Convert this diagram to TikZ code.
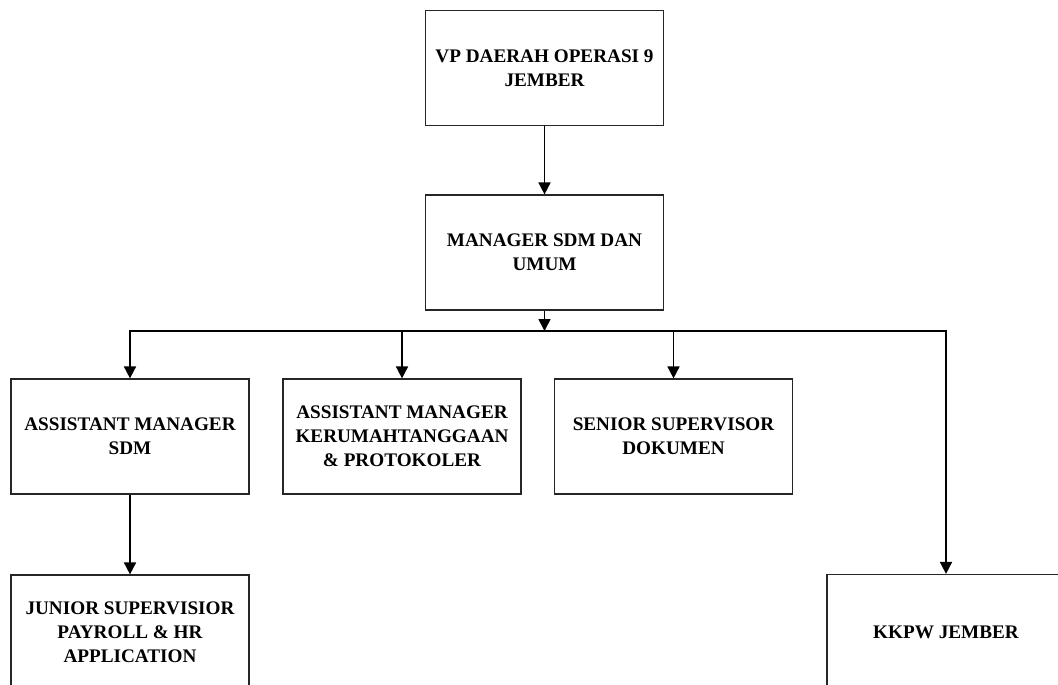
\documentclass[tikz,border=0pt]{standalone}
\usepackage{fontspec}
\setmainfont{Liberation Serif}
\usetikzlibrary{arrows.meta}
\begin{document}
\begin{tikzpicture}[x=0.5pt,y=-0.5pt,
  box/.style={draw=black!85,line width=0.6pt,minimum width=119pt,minimum height=57.5pt,
    align=center,font=\bfseries\fontsize{9.6}{12}\selectfont,inner sep=0pt},
  arr/.style={line width=0.85pt,-{Triangle[length=6pt,width=6pt]}},
  ln/.style={line width=0.85pt}]
\useasboundingbox (0,0) rectangle (1058,684);
\clip (0,0) rectangle (1058,684);
\node[box] (vp) at (544.5,68) {VP DAERAH OPERASI 9\\JEMBER};
\node[box] (m) at (544.5,252.5) {MANAGER SDM DAN\\UMUM};
\node[box] (a1) at (130,436.5) {ASSISTANT MANAGER\\SDM};
\node[box] (a2) at (402,436.5) {ASSISTANT MANAGER\\KERUMAHTANGGAAN\\\& PROTOKOLER};
\node[box] (a3) at (673.5,436.5) {SENIOR SUPERVISOR\\DOKUMEN};
\node[box] (jr) at (130,632.5) {JUNIOR SUPERVISIOR\\PAYROLL \& HR\\APPLICATION};
\node[box] (kk) at (946,632) {KKPW JEMBER};
\coordinate (bus) at (544.5,331);
\draw[arr] (vp) -- (m);
\draw[arr] (m) -- (bus);
\draw[arr] (bus) -| (a1.north);
\draw[arr] (bus) -| (a2.north);
\draw[arr] (bus) -| (a3.north);
\draw[arr] (bus) -| (kk.north);
\draw[arr] (a1) -- (jr);
\end{tikzpicture}
\end{document}
